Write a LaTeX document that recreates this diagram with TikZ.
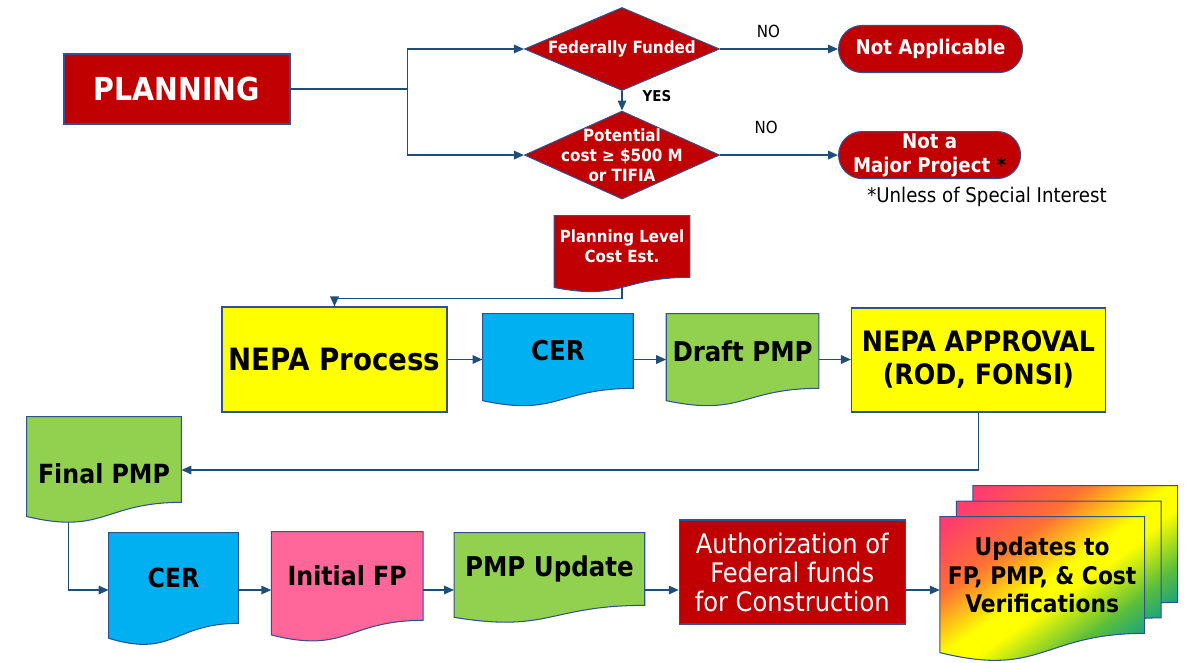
\documentclass[tikz,border=0pt]{standalone}
\usepackage{fontspec}
\setmainfont{DejaVu Sans Condensed}
\usepackage{tikz}
\usetikzlibrary{positioning,calc,shapes.geometric,arrows.meta,backgrounds}

\definecolor{fhwared}{HTML}{C00000}
\definecolor{nepayellow}{HTML}{FFFF00}
\definecolor{cerblue}{HTML}{00B0F0}
\definecolor{pmpgreen}{HTML}{92D050}
\definecolor{fppink}{HTML}{FF6699}
\definecolor{edgecol}{HTML}{1F4E79}
\definecolor{rimcol}{HTML}{2F528F}
\definecolor{rbred}{HTML}{FF3D6E}
\definecolor{rborange}{HTML}{FF7033}
\definecolor{rbgreen}{HTML}{5CBF3A}
\definecolor{rbteal}{HTML}{00979F}

\pgfdeclarehorizontalshading{updshade}{100bp}{color(0bp)=(rbred); color(18bp)=(rbred); color(33bp)=(rborange); color(47bp)=(nepayellow); color(53bp)=(nepayellow); color(66bp)=(rbgreen); color(78bp)=(rbteal); color(100bp)=(rbteal)}

\newcommand{\bigbold}{\fontsize{16}{18.8}\selectfont\bfseries}
\newcommand{\mdbold}{\fontsize{15}{18}\selectfont\bfseries}

% wavy document outline under a node
\newcommand{\docfill}[2]{%
  \path[draw=rimcol, line width=0.6pt, #2] (#1.north west) -- (#1.north east) -- (#1.south east)
    .. controls (#1.south) and ($(#1.north)!1.3815!(#1.south)$) .. ($(#1.north west)!1.1646!(#1.south west)$) -- cycle;}

\tikzset{
  box/.style={rectangle, draw=rimcol, line width=0.6pt, inner sep=0pt, align=center},
  redbox/.style={box, fill=fhwared, text=white},
  yelbox/.style={box, fill=nepayellow, font=\bigbold},
  docnode/.style={rectangle, inner sep=0pt, align=center},
  decision/.style={diamond, draw=rimcol, line width=0.6pt, fill=fhwared, minimum width=3.9cm, minimum height=1.66cm, inner sep=0pt},
  dtext/.style={text=white, align=center, font=\fontsize{9.6}{11.4}\selectfont\bfseries},
  term/.style={rectangle, rounded corners=0.47cm, draw=rimcol, line width=0.6pt, fill=fhwared, text=white, minimum width=3.68cm, minimum height=0.94cm, inner sep=0pt, align=center, font=\fontsize{11.5}{13.7}\selectfont\bfseries},
  arr/.style={draw=edgecol, line width=0.9pt, -{Triangle[length=0.2cm,width=0.17cm]}},
  line/.style={draw=edgecol, line width=0.9pt},
  answer/.style={font=\fontsize{9.5}{11}\selectfont},
  rainbow/.style={shade, shading=updshade, shading angle=-55},
}

\begin{document}
\begin{tikzpicture}
  \useasboundingbox (0,0) rectangle (23.76,-13.24);

  \node[redbox, minimum width=4.52cm, minimum height=1.4cm, font=\fontsize{18}{20}\selectfont\bfseries] (planning) at (3.54,-1.78) {PLANNING};
  \node[decision, label={[dtext]center:Federally Funded}] (fed) at (12.44,-0.98) {};
  \node[decision, minimum height=1.76cm, below=0.39 of fed, label={[dtext]center:{Potential\\cost ≥ \$500 M\\or TIFIA}}] (bigcost) {};
  \node[term, right=2.36 of fed] (notapp) {Not Applicable};
  \node[term, minimum width=3.64cm, right=2.36 of bigcost] (notmajor) {Not a\\Major Project \textcolor{black}{*}};
  \node[font=\fontsize{11.5}{13}\selectfont] (note) at (19.74,-3.94) {*Unless of Special Interest};
  \node[docnode, minimum width=2.7cm, minimum height=1.22cm, below=0.32 of bigcost, text=white, font=\fontsize{9.5}{11.4}\selectfont\bfseries] (plancost) {Planning Level\\Cost Est.};

  \node[yelbox, minimum width=4.5cm, minimum height=2.1cm, font=\fontsize{17.5}{20}\selectfont\bfseries] (nepa) at (6.69,-7.19) {NEPA Process};
  \node[docnode, minimum width=3cm, minimum height=1.48cm, right=0.7 of nepa, yshift=0.17cm, font=\fontsize{15.5}{18}\selectfont\bfseries] (cer1) {CER};
  \node[docnode, minimum width=3.04cm, minimum height=1.48cm, right=0.66 of cer1, font=\fontsize{15.5}{18}\selectfont\bfseries] (draft) {Draft PMP};
  \node[yelbox, minimum width=5.08cm, minimum height=2.08cm, right=0.64 of draft, yshift=-0.18cm] (approval) {NEPA APPROVAL\\(ROD, FONSI)};

  \node[docnode, minimum width=3.08cm, minimum height=1.7cm, text height=0.95cm, text depth=0pt, font=\mdbold] (finalpmp) at (2.08,-9.19) {Final PMP};
  \node[docnode, minimum width=2.58cm, minimum height=1.8cm, font=\mdbold] (cer2) at (3.47,-11.56) {CER};
  \node[docnode, minimum width=3.02cm, minimum height=1.76cm, right=0.66 of cer2, yshift=0.04cm, font=\mdbold] (initfp) {Initial FP};
  \node[docnode, minimum width=3.8cm, minimum height=1.44cm, right=0.62 of initfp, yshift=0.14cm, font=\fontsize{15.5}{18}\selectfont\bfseries] (pmpupd) {PMP Update};
  \node[redbox, minimum width=4.52cm, minimum height=2.08cm, right=0.68 of pmpupd, yshift=-0.06cm, font=\fontsize{15.3}{16.5}\selectfont] (auth) {Authorization of\\Federal funds\\for Construction};
  \node[docnode, minimum width=4.08cm, minimum height=2.32cm, right=0.68 of auth, yshift=-0.06cm, font=\fontsize{13.8}{16}\selectfont\bfseries] (upd) {Updates to\\FP, PMP, \& Cost\\Verifications};
  \node[docnode, minimum width=4.08cm, minimum height=2.32cm] (upd2) at ([shift={(0.33,0.31)}]upd) {};
  \node[docnode, minimum width=4.08cm, minimum height=2.32cm] (upd3) at ([shift={(0.66,0.62)}]upd) {};

  \begin{scope}[on background layer]
    \docfill{plancost}{fill=fhwared}
    \docfill{cer1}{fill=cerblue}
    \docfill{draft}{fill=pmpgreen}
    \docfill{finalpmp}{fill=pmpgreen}
    \docfill{cer2}{fill=cerblue}
    \docfill{initfp}{fill=fppink}
    \docfill{pmpupd}{fill=pmpgreen}
    \docfill{upd3}{rainbow}
    \docfill{upd2}{rainbow}
    \docfill{upd}{rainbow}
  \end{scope}

  \coordinate (split) at ($(planning.east)+(2.34,0)$);
  \draw[line] (planning.east) -- (split);
  \draw[arr] (split) |- (fed.west);
  \draw[arr] (split) |- (bigcost.west);
  \draw[arr] (fed.south) -- node[right=0.28cm, pos=0.25, font=\fontsize{8.5}{10}\selectfont\bfseries] {YES} (bigcost.north);
  \draw[arr] (fed.east) -- node[answer, above=2.5pt, pos=0.41] {NO} (notapp.west);
  \draw[arr] (bigcost.east) -- node[answer, above=0.3cm, pos=0.39] {NO} (notmajor.west);

  \coordinate (pcfoot) at ($(plancost.north)!1.163!(plancost.south)$);
  \draw[arr] (pcfoot) -- ++(0,-0.22) -| (nepa.north);
  \draw[arr] (nepa.east) -- (cer1.west |- nepa.east);
  \draw[arr] (cer1.east |- nepa.east) -- (draft.west |- nepa.east);
  \draw[arr] (draft.east |- nepa.east) -- (approval.west |- nepa.east);
  \draw[arr] (approval.south) |- ($(finalpmp.east)+(0,-0.21)$);

  \coordinate (fpfoot) at ($(finalpmp.south west)!0.27!(finalpmp.south east)+(0,-0.39)$);
  \coordinate (lane) at (0,-11.8);
  \draw[arr] (fpfoot) |- (cer2.west |- lane);
  \draw[arr] (cer2.east |- lane) -- (initfp.west |- lane);
  \draw[arr] (initfp.east |- lane) -- (pmpupd.west |- lane);
  \draw[arr] (pmpupd.east |- lane) -- (auth.west |- lane);
  \draw[arr] (auth.east |- lane) -- (upd.west |- lane);
\end{tikzpicture}
\end{document}
